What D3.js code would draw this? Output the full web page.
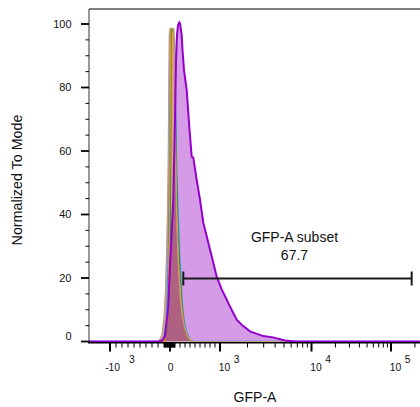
<!DOCTYPE html>
<html><head><meta charset="utf-8">
<script src="https://cdn.jsdelivr.net/npm/d3@7/dist/d3.min.js"></script>
<style>
body{margin:0;background:#fff}
svg{display:block}
text{font-family:"Liberation Sans",Arial,Helvetica,sans-serif;fill:#111}
</style>
</head><body>
<svg id="chart" width="420" height="407"></svg>
<script>
// ---------------- data ----------------
const yTicks = [0, 20, 40, 60, 80, 100];
const yMinorTicks = [5, 10, 15, 25, 30, 35, 45, 50, 55, 65, 70, 75, 85, 90, 95];
const xTickValues = [-1000, 0, 1000, 10000, 100000];
const xTickBase = ["-10", "0", "10", "10", "10"];
const xTickExp = ["3", "", "3", "4", "5"];
const xMinorTicks = [-900, -800, -700, -600, -500, -400, -300, -200, -100, -90, -80, -70, -60, -50, -40, -30, -20, -10,
  10, 20, 30, 40, 50, 60, 70, 80, 90, 100, 200, 300, 400, 500, 600, 700, 800, 900,
  2000, 3000, 4000, 5000, 6000, 7000, 8000, 9000,
  20000, 30000, 40000, 50000, 60000, 70000, 80000, 90000, 200000];

// GFP sample (purple)
const purpleX = [-1350, -200, -133, -83, -33, 0, 34, 66, 100, 120, 140, 160, 186, 200, 234, 250, 280, 334, 386, 434, 466, 534, 600, 666, 766, 866, 934, 1044, 1184, 1286, 1522, 1727, 2128, 2973, 3795, 5133, 6600, 230000];
const purpleY = [0, 0, 0.3, 1.6, 10.1, 23.6, 34.3, 44.7, 69.8, 88.7, 96.5, 99.7, 100.5, 100.2, 96.5, 91.8, 85.5, 79.2, 67.6, 58.2, 57.9, 50.9, 44.7, 37.4, 31.1, 24.8, 20.4, 16.4, 13.2, 11.0, 6.9, 5.3, 3.2, 1.7, 1.3, 0.3, 0, 0];

// controls
const tanX = [-1350, -183, -133, -100, -75, -58, -42, -28, -20, -13, 0, 40, 80, 90, 104, 120, 140, 170, 200, 240, 300, 380, 460, 230000];
const tanY = [0, 0, 2.2, 7.5, 16.4, 27.4, 41.6, 60.5, 82.5, 96.7, 98.6, 98.7, 98.3, 88.8, 69.9, 51.0, 35.3, 22.7, 14.8, 8.5, 3.8, 0.9, 0, 0];

const orangeX = [-1350, -90, -40, -12, 2, 10, 18, 66, 86, 104, 130, 170, 220, 280, 360, 440, 230000];
const orangeY = [0, 0, 6.8, 28.8, 60.3, 88.6, 98.6, 98.6, 88.6, 66.6, 44.5, 25.6, 13.1, 5.2, 1.1, 0, 0];

const greenX = [-1350, -100, -55, -18, 4, 15, 20, 26, 60, 90, 110, 134, 160, 200, 250, 300, 380, 440, 230000];
const greenY = [0, 0, 3.6, 13.1, 28.8, 60.3, 88.6, 98.4, 98.6, 93.5, 72.9, 50.9, 35.1, 21.0, 9.9, 3.6, 0.5, 0, 0];

const blueX = [-1350, -110, -60, -35, -18, -6, 4, 14, 60, 90, 110, 130, 160, 200, 240, 280, 340, 400, 480, 230000];
const blueY = [0, 0, 6.9, 22.7, 44.7, 69.9, 88.8, 97.3, 98.3, 95.1, 76.2, 57.3, 41.6, 25.8, 13.2, 6.9, 2.8, 0.5, 0, 0];

const gateStart = 266, gateEnd = 182000, gateLevel = 20;
const gateName = "GFP-A subset", gateValue = "67.7";

// ---------------- scales ----------------
const svg = d3.select("#chart");
const biex = v => v <= 1000 ? v / 1000 : 1 + Math.log10(v / 1000);
const xs = d3.scaleLinear().domain([-1, 0, 1, 2, 3]).range([110, 170, 220, 311.5, 391]);
const x = v => xs(biex(v));
const y = d3.scaleLinear().domain([0, 100]).range([341.5, 24]);

const plotL = 89, plotR = 420, plotT = 9, plotB = 342.5;

svg.append("defs").append("clipPath").attr("id", "clip")
  .append("rect").attr("x", plotL).attr("y", plotT).attr("width", plotR - plotL).attr("height", plotB - plotT);

const zip = (a, b) => a.map((v, i) => [v, b[i]]);
const area = d3.area().x(d => x(d[0])).y0(y(0)).y1(d => y(d[1]));
const line = d3.line().x(d => x(d[0])).y(d => y(d[1]));

const plot = svg.append("g").attr("clip-path", "url(#clip)");

const purple = zip(purpleX, purpleY);
const tan = zip(tanX, tanY);
plot.append("path").attr("d", area(purple)).attr("fill", "#d59be7");
plot.append("path").attr("d", area(tan)).attr("fill", "#d2a090").style("mix-blend-mode", "multiply");
plot.append("path").attr("d", line(zip(blueX, blueY))).attr("fill", "none").attr("stroke", "#2e9cf0").attr("stroke-width", 1.3);
plot.append("path").attr("d", line(zip(greenX, greenY))).attr("fill", "none").attr("stroke", "#1a9a1a").attr("stroke-width", 1.1);
plot.append("path").attr("d", line(zip(orangeX, orangeY))).attr("fill", "none").attr("stroke", "#ff8c00").attr("stroke-width", 1.1);
plot.append("path").attr("d", line(tan)).attr("fill", "none").attr("stroke", "#c49a84").attr("stroke-width", 1.2);
plot.append("path").attr("d", line(purple)).attr("fill", "none").attr("stroke", "#9400cc").attr("stroke-width", 2);

// frame
svg.append("line").attr("x1", plotL).attr("x2", plotR).attr("y1", plotT).attr("y2", plotT)
  .attr("stroke", "#808080").attr("stroke-width", 2);
svg.append("line").attr("x1", plotL).attr("x2", plotL).attr("y1", plotT).attr("y2", 343)
  .attr("stroke", "#333").attr("stroke-width", 1);
svg.append("line").attr("x1", plotL - 1).attr("x2", plotR).attr("y1", 342.8).attr("y2", 342.8)
  .attr("stroke", "#000").attr("stroke-width", 1.4);

// y axis
const yAxis = svg.append("g");
yAxis.selectAll("line.maj").data(yTicks).join("line")
  .attr("x1", 81).attr("x2", plotL).attr("y1", d => y(d)).attr("y2", d => y(d))
  .attr("stroke", "#000").attr("stroke-width", 1.8);
yAxis.selectAll("line.min").data(yMinorTicks).join("line")
  .attr("x1", 85.5).attr("x2", plotL).attr("y1", d => y(d)).attr("y2", d => y(d))
  .attr("stroke", "#000").attr("stroke-width", 1);
yAxis.selectAll("text").data(yTicks).join("text")
  .attr("x", 71.5).attr("y", d => y(d) + (d === 0 ? -5 : 0)).attr("dy", "0.35em")
  .attr("text-anchor", "end").attr("font-size", 11).text(d => d);

// x axis ticks
const xAxis = svg.append("g");
xAxis.selectAll("line.min").data(xMinorTicks).join("line")
  .attr("x1", d => x(d)).attr("x2", d => x(d)).attr("y1", 343).attr("y2", 347.5)
  .attr("stroke", "#000").attr("stroke-width", 1);
xAxis.selectAll("line.maj").data(xTickValues).join("line")
  .attr("x1", d => x(d)).attr("x2", d => x(d)).attr("y1", 343).attr("y2", 351.5)
  .attr("stroke", "#000").attr("stroke-width", 2);
xTickValues.forEach((v, i) => {
  const px = x(v);
  if (xTickExp[i] === "") {
    xAxis.append("text").attr("x", px + 0.5).attr("y", 371).attr("text-anchor", "middle")
      .attr("font-size", 10.3).text(xTickBase[i]);
  } else {
    const neg = xTickBase[i].startsWith("-");
    const t = xAxis.append("text").attr("x", px + (neg ? -4.8 : -1.2)).attr("y", 371)
      .attr("text-anchor", "start").attr("font-size", 10.3);
    t.append("tspan").text(xTickBase[i]);
    t.append("tspan").attr("dx", neg ? 9 : 3.5).attr("dy", -7.7).text(xTickExp[i]);
  }
});

// gate
const gy = y(gateLevel) + 0.5, gx1 = x(gateStart), gx2 = x(gateEnd);
const gate = svg.append("g").attr("stroke", "#1a1a1a").attr("stroke-width", 2);
gate.append("line").attr("x1", gx1).attr("x2", gx2).attr("y1", gy).attr("y2", gy);
gate.append("line").attr("x1", gx1).attr("x2", gx1).attr("y1", gy - 7).attr("y2", gy + 7);
gate.append("line").attr("x1", gx2).attr("x2", gx2).attr("y1", gy - 7).attr("y2", gy + 7);
const gcx = (gx1 + gx2) / 2 - 3;
svg.append("text").attr("x", gcx).attr("y", gy - 37).attr("text-anchor", "middle").attr("font-size", 14).text(gateName);
svg.append("text").attr("x", gcx).attr("y", gy - 18.5).attr("text-anchor", "middle").attr("font-size", 14).text(gateValue);

// axis titles
svg.append("text").attr("x", 255).attr("y", 401.5).attr("text-anchor", "middle").attr("font-size", 14).text("GFP-A");
svg.append("text").attr("transform", "translate(22,180) rotate(-90)").attr("text-anchor", "middle")
  .attr("font-size", 14.3).text("Normalized To Mode");
</script>
</body></html>
